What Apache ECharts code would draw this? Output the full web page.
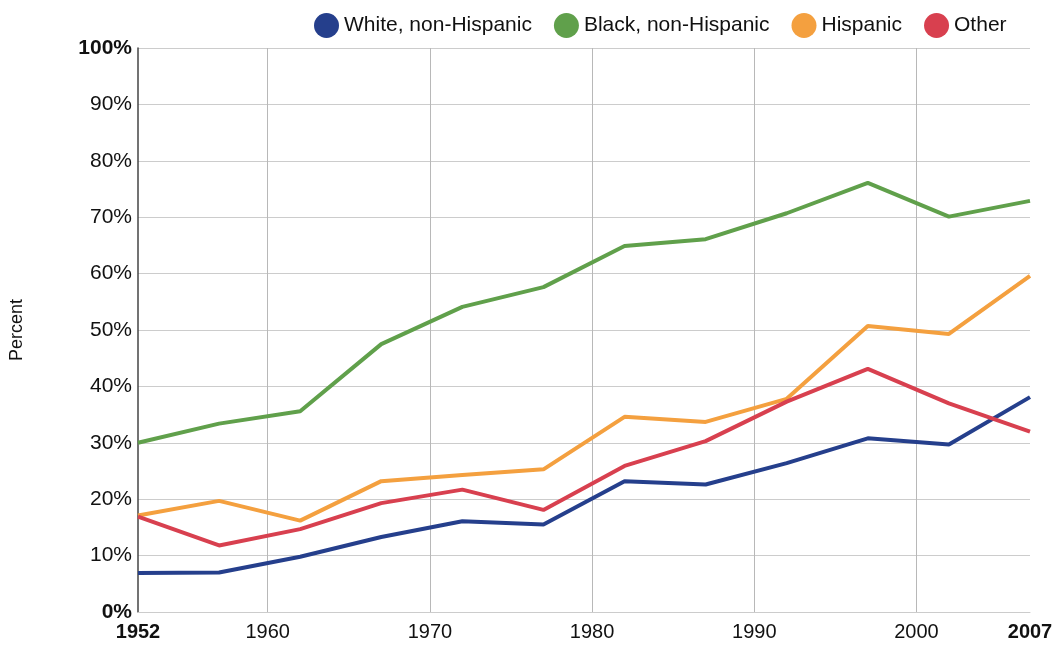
<!DOCTYPE html>
<html>
<head>
<meta charset="utf-8">
<script src="https://cdn.jsdelivr.net/npm/echarts@6/dist/echarts.min.js"></script>
<style>
  html, body { margin: 0; padding: 0; background: #fff; }
  #chart { width: 1055px; height: 646px; }
</style>
</head>
<body>
<div id="chart"></div>
<script>
  // survey years
  var years = [1952, 1957, 1962, 1967, 1972, 1977, 1982, 1987, 1992, 1997, 2002, 2007];
  var white = [6.9, 7.0, 9.8, 13.3, 16.1, 15.5, 23.2, 22.6, 26.4, 30.8, 29.7, 38.1];
  var black = [30.0, 33.4, 35.6, 47.5, 54.1, 57.6, 64.9, 66.1, 70.7, 76.1, 70.1, 72.9];
  var hispanic = [17.1, 19.7, 16.2, 23.2, 24.3, 25.3, 34.6, 33.7, 37.8, 50.7, 49.3, 59.6];
  var other = [16.9, 11.8, 14.7, 19.3, 21.7, 18.1, 25.9, 30.3, 37.3, 43.1, 37.0, 32.0];
  var xLabelYears = [1952, 1960, 1970, 1980, 1990, 2000, 2007];
  var xGridYears = [1960, 1970, 1980, 1990, 2000];

  function pairs(arr) {
    return years.map(function (y, i) { return [y, arr[i]]; });
  }

  var chart = echarts.init(document.getElementById('chart'));
  var font = 'Liberation Sans, Arial, sans-serif';

  function line(name, data, color) {
    return {
      name: name,
      type: 'line',
      data: pairs(data),
      symbol: 'none',
      lineStyle: { width: 4, color: color },
      itemStyle: { color: color }
    };
  }

  chart.setOption({
    animation: false,
    textStyle: { fontFamily: font },
    legend: {
      left: 309,
      top: 8,
      icon: 'circle',
      itemWidth: 25,
      itemHeight: 25,
      itemGap: 22,
      textStyle: { fontSize: 21, color: '#111', fontFamily: font }
    },
    grid: { left: 138, right: 25, top: 48, bottom: 34, outerBoundsMode: 'none', containLabel: false },
    xAxis: {
      type: 'value',
      min: 1952,
      max: 2007,
      axisLine: { show: true, lineStyle: { color: '#cccccc', width: 1 } },
      axisTick: { show: false, customValues: xGridYears },
      splitLine: { show: true, lineStyle: { color: '#b8b8b8', width: 1 } },
      axisLabel: {
        customValues: xLabelYears,
        margin: 10,
        fontSize: 20,
        color: '#111',
        formatter: function (v) {
          return (v === 1952 || v === 2007) ? '{b|' + v + '}' : String(v);
        },
        rich: { b: { fontWeight: 'bold', fontSize: 20, color: '#111', fontFamily: font } }
      }
    },
    yAxis: {
      type: 'value',
      min: 0,
      max: 100,
      interval: 10,
      name: 'Percent',
      nameLocation: 'middle',
      nameRotate: 90,
      nameGap: 112,
      nameTextStyle: { fontSize: 18, color: '#111', fontFamily: font },
      axisLine: { show: true, lineStyle: { color: '#444', width: 1.5 } },
      axisTick: { show: false },
      splitLine: { show: true, lineStyle: { color: '#cccccc', width: 1 } },
      axisLabel: {
        margin: 6,
        fontSize: 21,
        color: '#111',
        formatter: function (v) {
          return (v === 0 || v === 100) ? '{b|' + v + '%}' : v + '%';
        },
        rich: { b: { fontWeight: 'bold', fontSize: 21, color: '#111', fontFamily: font } }
      }
    },
    series: [
      line('White, non-Hispanic', white, '#253f8c'),
      line('Black, non-Hispanic', black, '#60a04b'),
      line('Hispanic', hispanic, '#f4a03f'),
      line('Other', other, '#d8404f')
    ]
  });
</script>
</body>
</html>
